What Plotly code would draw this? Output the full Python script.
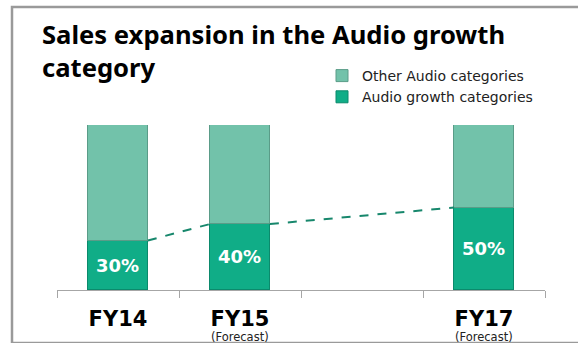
import plotly.graph_objects as go

# ---- data ----
categories = ["FY14", "FY15", "FY16", "FY17"]
subtitles = ["", "(Forecast)", "", "(Forecast)"]
growth = [30, 40, None, 50]          # Audio growth categories (%)
other = [70, 60, None, 50]           # Other Audio categories (%)
growth_labels = ["30%", "40%", "", "50%"]
title_text = "Sales expansion in the Audio growth<br>category"

x_pos = list(range(len(categories)))
bar_w = 0.49

W, H = 578, 343
ML, MR, MT, MB = 57, 33, 125, 53
pw = W - ML - MR
ph = H - MT - MB


def py(pix):
    """pixel row -> paper y"""
    return (H - MB - pix) / ph


def px(pix):
    """pixel column -> paper x"""
    return (pix - ML) / pw


fig = go.Figure()

fig.add_trace(go.Bar(
    x=x_pos, y=growth, width=bar_w, name="Audio growth categories",
    marker=dict(color="#10ad87", line=dict(color="#0b8a6c", width=1)),
    text=growth_labels, textposition="inside", insidetextanchor="middle",
    textangle=0, constraintext="none",
    textfont=dict(family="DejaVu Sans", size=18, color="white", weight="bold"),
    hoverinfo="skip",
))
fig.add_trace(go.Bar(
    x=x_pos, y=other, width=bar_w, name="Other Audio categories",
    marker=dict(color="#72c2aa", line=dict(color="#5a9c88", width=1)),
    hoverinfo="skip",
))

# dashed connector between growth tops: right edge of one bar to left edge of the next
present = [i for i, g in enumerate(growth) if g is not None]
lx, ly = [], []
for a, b in zip(present[:-1], present[1:]):
    lx += [x_pos[a] + bar_w / 2, x_pos[b] - bar_w / 2, None]
    ly += [growth[a], growth[b], None]
fig.add_trace(go.Scatter(
    x=lx, y=ly, mode="lines", showlegend=False, hoverinfo="skip",
    line=dict(color="#17876c", width=2, dash="dash"),
))

# "(Forecast)" sub-labels
for i, s in enumerate(subtitles):
    if s:
        fig.add_annotation(
            x=x_pos[i], xref="x", y=py(336.5), yref="paper",
            text=s, showarrow=False, yanchor="middle",
            font=dict(family="DejaVu Sans", size=11.5, color="#222222"),
        )

# title
fig.add_annotation(
    x=px(40), xref="paper", xanchor="left", align="left",
    y=py(51), yref="paper", yanchor="middle",
    text="<b>%s</b>" % title_text, showarrow=False,
    font=dict(family="Noto Sans", size=25.6, color="black"),
)

# frame
fig.add_shape(type="rect", xref="paper", yref="paper",
              x0=px(12), x1=1.3, y0=py(343), y1=py(7),
              line=dict(color="#9a9a9a", width=2.5), layer="below")

fig.update_layout(
    width=W, height=H,
    margin=dict(l=ML, r=MR, t=MT, b=MB),
    paper_bgcolor="white", plot_bgcolor="white",
    barmode="stack", bargap=0,
    legend=dict(
        x=px(322), xanchor="left", y=py(60), yanchor="top",
        traceorder="reversed", itemwidth=30,
        font=dict(family="DejaVu Sans", size=14, color="#222222"),
        bgcolor="rgba(0,0,0,0)", tracegroupgap=0,
    ),
    xaxis=dict(
        range=[-0.5, 3.5], tickmode="array", tickvals=x_pos,
        ticktext=["<b>%s</b>" % c if c != "FY16" else "" for c in categories],
        tickfont=dict(family="DejaVu Sans", size=21, color="black"),
        ticks="", showline=True, linecolor="#a6a6a6", linewidth=1,
        showgrid=False, zeroline=False, ticklabelstandoff=10,
        minor=dict(tickmode="linear", tick0=-0.5, dtick=1, ticks="outside",
                   ticklen=7, tickcolor="#a6a6a6", tickwidth=1, showgrid=False),
    ),
    yaxis=dict(range=[0, 100], visible=False),
    showlegend=True,
)

fig.write_html("out.html")
